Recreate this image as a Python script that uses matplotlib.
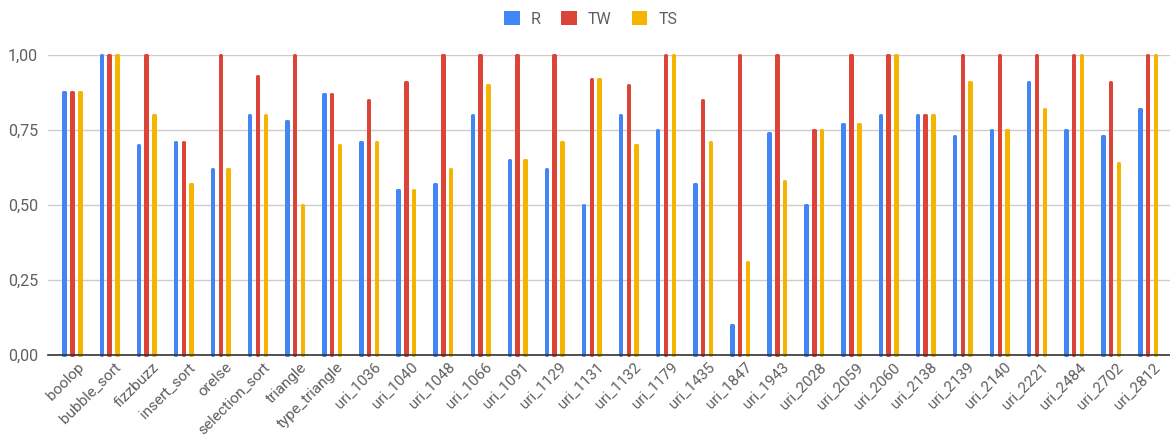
import matplotlib
matplotlib.use("Agg")
import matplotlib.pyplot as plt
import matplotlib.transforms as mtransforms
import numpy as np

categories = ["boolop", "bubble_sort", "fizzbuzz", "insert_sort", "orelse",
              "selection_sort", "triangle", "type_triangle", "uri_1036", "uri_1040",
              "uri_1048", "uri_1066", "uri_1091", "uri_1129", "uri_1131",
              "uri_1132", "uri_1179", "uri_1435", "uri_1847", "uri_1943",
              "uri_2028", "uri_2059", "uri_2060", "uri_2138", "uri_2139",
              "uri_2140", "uri_2221", "uri_2484", "uri_2702", "uri_2812"]

r_vals = [0.875, 1.00, 0.70, 0.71, 0.62, 0.80, 0.78, 0.87, 0.71, 0.55,
          0.57, 0.80, 0.65, 0.62, 0.50, 0.80, 0.75, 0.57, 0.10, 0.74,
          0.50, 0.77, 0.80, 0.80, 0.73, 0.75, 0.91, 0.75, 0.73, 0.82]
tw_vals = [0.875, 1.00, 1.00, 0.71, 1.00, 0.93, 1.00, 0.87, 0.85, 0.91,
           1.00, 1.00, 1.00, 1.00, 0.92, 0.90, 1.00, 0.85, 1.00, 1.00,
           0.75, 1.00, 1.00, 0.80, 1.00, 1.00, 1.00, 1.00, 0.91, 1.00]
ts_vals = [0.875, 1.00, 0.80, 0.57, 0.62, 0.80, 0.50, 0.70, 0.71, 0.55,
           0.62, 0.90, 0.65, 0.71, 0.92, 0.70, 1.00, 0.71, 0.31, 0.58,
           0.75, 0.77, 1.00, 0.80, 0.91, 0.75, 0.82, 1.00, 0.64, 1.00]

series_names = ["R", "TW", "TS"]
colors = ["#4285F4", "#DB4437", "#F4B400"]
y_ticks = [0.0, 0.25, 0.5, 0.75, 1.0]
y_tick_labels = ["0,00", "0,25", "0,50", "0,75", "1,00"]

plt.rcParams["font.family"] = ["Roboto", "DejaVu Sans"]
text_color = "#5f5f5f"
font_size = 11.5

fig = plt.figure(figsize=(11.7, 4.37), dpi=100)
ax = fig.add_axes([48 / 1170, (437 - 354.7) / 437, 1 - 48 / 1170, 300.2 / 437])

x = np.arange(len(categories))
offset = 0.21
# narrow face plus a thick round-joined edge gives rounded bar ends
face_width = 0.04
edge_lw = 2.16
for i, (vals, name, col) in enumerate(zip([r_vals, tw_vals, ts_vals], series_names, colors)):
    ax.bar(x + (i - 1) * offset, vals, width=face_width, color=col, edgecolor=col,
           linewidth=edge_lw, joinstyle="round", label=name, zorder=3, clip_on=False)

ax.set_xlim(-0.647, 29.6)
ax.set_ylim(0, 1.0)
ax.set_yticks(y_ticks)
ax.set_yticklabels(y_tick_labels)
ax.set_xticks(x)
ax.set_xticklabels(categories)

ax.yaxis.grid(True, color="#cccccc", linewidth=1.0, zorder=0)
ax.set_axisbelow(True)
for side in ["top", "right", "left"]:
    ax.spines[side].set_visible(False)
ax.spines["bottom"].set_color("#333333")
ax.spines["bottom"].set_linewidth(1.2)
ax.spines["bottom"].set_zorder(4)
ax.tick_params(axis="both", length=0, colors=text_color, labelsize=font_size)
ax.tick_params(axis="y", pad=7)
ax.tick_params(axis="x", pad=4, labelrotation=45)

shift = mtransforms.ScaledTranslation(10 / 100, -5 / 100, fig.dpi_scale_trans)
for lbl in ax.get_xticklabels():
    lbl.set_fontsize(11.0)
    lbl.set_rotation(45)
    lbl.set_rotation_mode("anchor")
    lbl.set_horizontalalignment("right")
    lbl.set_verticalalignment("center")
    lbl.set_transform(lbl.get_transform() + shift)

leg = fig.legend(loc="center", bbox_to_anchor=(591 / 1170, 1 - 19 / 437), ncol=3,
                 frameon=False, fontsize=font_size, handlelength=0.95, handleheight=0.95,
                 handletextpad=0.7, columnspacing=1.3, labelcolor=text_color)
for h in leg.legend_handles:
    h.set_linewidth(0)

fig.savefig("out.png", dpi=100, facecolor="white")
